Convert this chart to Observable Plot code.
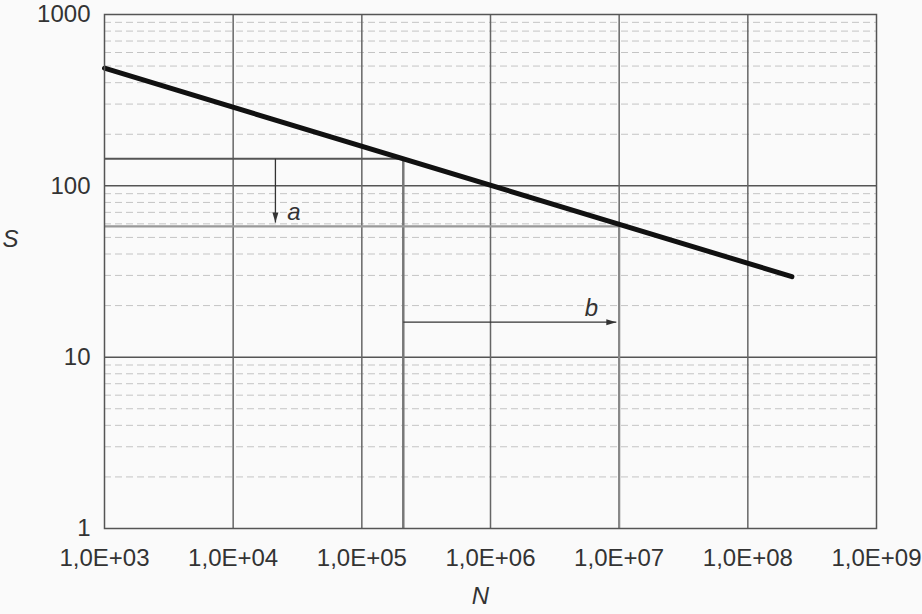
<!DOCTYPE html>
<html><head><meta charset="utf-8">
<script src="https://cdn.jsdelivr.net/npm/d3@7"></script>
<script src="https://cdn.jsdelivr.net/npm/@observablehq/plot@0.6"></script>
<style>
html,body{margin:0;padding:0;background:#fafafa;}
#chart svg{display:block;}
</style></head><body><div id="chart"></div>
<script>
// Tick values and labels
const xTicks = [1e3, 1e4, 1e5, 1e6, 1e7, 1e8, 1e9];
const xTickLabels = ["1,0E+03", "1,0E+04", "1,0E+05", "1,0E+06", "1,0E+07", "1,0E+08", "1,0E+09"];
const yTicks = [1, 10, 100, 1000];
const yTickLabels = ["1", "10", "100", "1000"];
const majorGridX = [1e4, 1e5, 1e6, 1e7, 1e8];
const majorGridY = [10, 100];
const minorGridY = [2, 3, 4, 5, 6, 7, 8, 9, 20, 30, 40, 50, 60, 70, 80, 90, 200, 300, 400, 500, 600, 700, 800, 900];

// S-N curve (end points)
const curveN = [1e3, 2.2e8];
const curveS = [486, 29.5];

// Stress levels and corresponding lives
const levelS = [144, 58];
const levelN = [2.1e5, 1e7];

// Arrows
const arrowA = {n: 2.13e4, s1: 144, s2: 61};
const arrowB = {s: 16, n1: 2.1e5, n2: 9.5e6};

// Annotation labels
const annText = ["a", "b"];
const annN = [2.97e4, 6.1e6];
const annS = [70.3, 19.3];

const curve = curveN.map((n, i) => ({n, s: curveS[i]}));
const ann = annText.map((t, i) => ({t, n: annN[i], s: annS[i]}));
const heads = [
  {n: arrowA.n, s: arrowA.s2, rot: 180},
  {n: arrowB.n2, s: arrowB.s, rot: 90}
];

const FONT = "Liberation Sans, Arial, Helvetica, sans-serif";

const chart = Plot.plot({
  width: 922,
  height: 614,
  marginLeft: 104,
  marginRight: 46,
  marginTop: 14,
  marginBottom: 86,
  style: {fontFamily: FONT, fontSize: "24px", color: "#333", background: "#fafafa", overflow: "visible"},
  x: {type: "log", domain: [1e3, 1e9]},
  y: {type: "log", domain: [1, 1000]},
  marks: [
    Plot.ruleY(minorGridY, {stroke: "#c4c4c4", strokeWidth: 1, strokeDasharray: "7,4"}),
    Plot.ruleY(majorGridY, {stroke: "#555", strokeWidth: 1.5}),
    Plot.ruleX(majorGridX, {stroke: "#666", strokeWidth: 1.5}),
    // level lines
    Plot.ruleY([levelS[0]], {x1: 1e3, x2: levelN[0], stroke: "#555", strokeWidth: 2}),
    Plot.ruleX([levelN[0]], {y1: 1, y2: levelS[0], stroke: "#777", strokeWidth: 2.5}),
    Plot.ruleY([levelS[1]], {x1: 1e3, x2: levelN[1], stroke: "#999", strokeWidth: 2.2}),
    Plot.ruleX([levelN[1]], {y1: 1, y2: levelS[1], stroke: "#888", strokeWidth: 2.2}),
    // arrows
    Plot.link([arrowA], {x1: "n", x2: "n", y1: "s1", y2: "s2", stroke: "#333", strokeWidth: 1.3}),
    Plot.link([arrowB], {x1: "n1", x2: "n2", y1: "s", y2: "s", stroke: "#333", strokeWidth: 1.3}),
    Plot.vector(heads, {x: "n", y: "s", rotate: "rot", length: 10, r: 3, shape: "spike", anchor: "end", fill: "#333", stroke: "none"}),
    Plot.text(ann, {x: "n", y: "s", text: "t", fontStyle: "italic", fontSize: 24, fill: "#333"}),
    // S-N curve
    Plot.line(curve, {x: "n", y: "s", stroke: "#111", strokeWidth: 5, strokeLinecap: "round"}),
    Plot.frame({stroke: "#555", strokeWidth: 1.5}),
    Plot.axisX({ticks: xTicks, tickFormat: d => xTickLabels[xTicks.indexOf(d)], tickSize: 0, tickPadding: 20, label: null}),
    Plot.axisY({ticks: yTicks, tickFormat: d => yTickLabels[yTicks.indexOf(d)], tickSize: 0, tickPadding: 14, label: null}),
    Plot.text(["S"], {frameAnchor: "left", dx: -94, dy: -32, text: d => d, fontStyle: "italic", fontSize: 24, fill: "#333", textAnchor: "middle"}),
    Plot.text(["N"], {frameAnchor: "bottom", dx: -10, dy: 75, text: d => d, fontStyle: "italic", fontSize: 24, fill: "#333", textAnchor: "middle"})
  ]
});
document.getElementById("chart").appendChild(chart);
</script>
</body></html>
